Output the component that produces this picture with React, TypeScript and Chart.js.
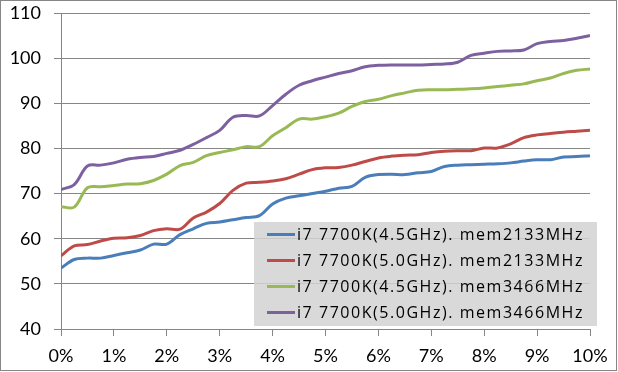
import { useEffect, useRef } from 'react';
import { Chart, registerables } from 'chart.js';

Chart.register(...registerables);

const xPct = [0, 0.25, 0.5, 0.75, 1, 1.25, 1.5, 1.75, 2, 2.25, 2.5, 2.75, 3, 3.25, 3.5, 3.75, 4, 4.25, 4.5, 4.75, 5, 5.25, 5.5, 5.75, 6, 6.25, 6.5, 6.75, 7, 7.25, 7.5, 7.75, 8, 8.25, 8.5, 8.75, 9, 9.25, 9.5, 9.75, 10];

const seriesLabels = [
  'i7 7700K(4.5GHz). mem2133MHz',
  'i7 7700K(5.0GHz). mem2133MHz',
  'i7 7700K(4.5GHz). mem3466MHz',
  'i7 7700K(5.0GHz). mem3466MHz',
];

const blue45_2133 = [53.5, 55.4, 55.7, 55.7, 56.3, 56.9, 57.5, 58.8, 58.8, 60.9, 62.2, 63.4, 63.7, 64.2, 64.7, 65.1, 67.7, 69.0, 69.5, 70.0, 70.5, 71.2, 71.6, 73.6, 74.2, 74.3, 74.2, 74.6, 74.9, 76.0, 76.3, 76.4, 76.5, 76.6, 76.8, 77.2, 77.5, 77.5, 78.1, 78.2, 78.4];
const red50_2133 = [56.2, 58.4, 58.7, 59.5, 60.1, 60.2, 60.7, 61.8, 62.2, 62.1, 64.6, 65.9, 67.8, 70.7, 72.3, 72.5, 72.8, 73.3, 74.3, 75.3, 75.7, 75.8, 76.3, 77.1, 77.9, 78.3, 78.5, 78.6, 79.1, 79.4, 79.5, 79.5, 80.1, 80.1, 81.0, 82.4, 83.0, 83.3, 83.6, 83.8, 84.0];
const green45_3466 = [67.1, 67.0, 71.3, 71.5, 71.8, 72.1, 72.2, 72.9, 74.3, 76.2, 76.9, 78.4, 79.1, 79.7, 80.4, 80.4, 82.8, 84.6, 86.5, 86.5, 87.0, 87.8, 89.3, 90.4, 90.9, 91.7, 92.3, 92.9, 93.0, 93.0, 93.1, 93.2, 93.4, 93.7, 94.0, 94.3, 95.0, 95.6, 96.6, 97.3, 97.6];
const purple50_3466 = [70.9, 72.0, 76.1, 76.3, 76.8, 77.6, 78.0, 78.2, 78.9, 79.6, 80.9, 82.4, 84.0, 86.9, 87.3, 87.2, 89.5, 92.0, 94.0, 95.0, 95.8, 96.6, 97.2, 98.1, 98.4, 98.5, 98.5, 98.5, 98.6, 98.7, 99.1, 100.6, 101.1, 101.5, 101.6, 101.8, 103.2, 103.7, 103.9, 104.4, 105.0];

const seriesValues = [blue45_2133, red50_2133, green45_3466, purple50_3466];
const seriesColors = ['#4a7ebb', '#be4b48', '#98b954', '#7d60a0'];

const yMin = 40;
const yMax = 110;
const yStep = 10;
const xMin = 0;
const xMax = 10;
const xStep = 1;

const GRID = '#868686';
const FONT = 'Lato, "DejaVu Sans", sans-serif';
const LEGEND_FONT = '"Open Sans", Lato, sans-serif';

const framePlugin = {
  id: 'frame',
  beforeDraw(chart: any) {
    const ctx = chart.ctx;
    ctx.save();
    ctx.fillStyle = '#ffffff';
    ctx.fillRect(0, 0, chart.width, chart.height);
    ctx.restore();
  },
  afterDraw(chart: any) {
    const ctx = chart.ctx;
    const boxL = 254, boxR = 597, boxT = 222, boxB = 326;
    ctx.save();
    ctx.fillStyle = 'rgba(210,210,210,0.85)';
    ctx.fillRect(boxL, boxT, boxR - boxL, boxB - boxT);
    const rowH = 26;
    const firstRow = 234.5;
    ctx.font = `16px ${LEGEND_FONT}`;
    ctx.textBaseline = 'middle';
    ctx.textAlign = 'left';
    chart.data.datasets.forEach((ds: any, i: number) => {
      const y = firstRow + i * rowH;
      ctx.strokeStyle = ds.borderColor;
      ctx.lineWidth = 3;
      ctx.beginPath();
      ctx.moveTo(267, y);
      ctx.lineTo(295, y);
      ctx.stroke();
      const txt = ds.label;
      (ctx as any).letterSpacing = '0px';
      const w0 = ctx.measureText(txt).width;
      const sp = (287 - w0) / txt.length;
      (ctx as any).letterSpacing = `${sp}px`;
      ctx.fillStyle = '#000';
      ctx.fillText(txt, 297, y + 1);
    });
    (ctx as any).letterSpacing = '0px';
    ctx.strokeStyle = GRID;
    ctx.lineWidth = 1;
    ctx.strokeRect(0.5, 0.5, 616, 370);
    ctx.restore();
  },
};

export default function App() {
  const ref = useRef<HTMLCanvasElement | null>(null);
  useEffect(() => {
    document.body.style.margin = '0';
    const canvas = ref.current;
    if (!canvas) return;
    const chart = new Chart(canvas, {
      type: 'line',
      data: {
        datasets: seriesLabels.map((label, i) => ({
          label,
          data: xPct.map((x, j) => ({ x, y: seriesValues[i][j] })),
          borderColor: seriesColors[i],
          backgroundColor: seriesColors[i],
          borderWidth: 3,
          pointRadius: 0,
          tension: 0.35,
          fill: false,
        })),
      },
      options: {
        responsive: false,
        animation: false,
        devicePixelRatio: 1,
        layout: { padding: { left: 0, right: 28, top: 13, bottom: 0 } },
        plugins: {
          legend: { display: false },
          tooltip: { enabled: false },
        },
        scales: {
          x: {
            type: 'linear',
            min: xMin,
            max: xMax,
            afterFit: (s: any) => { s.height = 43; },
            ticks: {
              stepSize: xStep,
              callback: (v: any) => `${v}%`,
              color: '#000',
              font: { family: FONT, size: 18 },
              padding: 9,
              maxRotation: 0,
            },
            grid: {
              drawOnChartArea: false,
              drawTicks: true,
              tickLength: 7,
              color: GRID,
            },
            border: { display: true, color: GRID, width: 1 },
          },
          y: {
            type: 'linear',
            min: yMin,
            max: yMax,
            afterFit: (s: any) => {
              s.width = 61;
              s.paddingTop = 0;
              s.paddingBottom = 0;
              if (s._margins) { s._margins.top = 0; s._margins.bottom = 0; }
            },
            ticks: {
              stepSize: yStep,
              color: '#000',
              font: { family: FONT, size: 18 },
              padding: 13,
            },
            grid: {
              color: GRID,
              drawTicks: true,
              tickLength: 7,
            },
            border: { display: true, color: GRID, width: 1 },
          },
        },
      },
      plugins: [framePlugin],
    });
    return () => chart.destroy();
  }, []);
  return (
    <div style={{ width: 618, height: 372 }}>
      <canvas ref={ref} width={618} height={372} style={{ display: 'block', width: 618, height: 372 }} />
    </div>
  );
}
